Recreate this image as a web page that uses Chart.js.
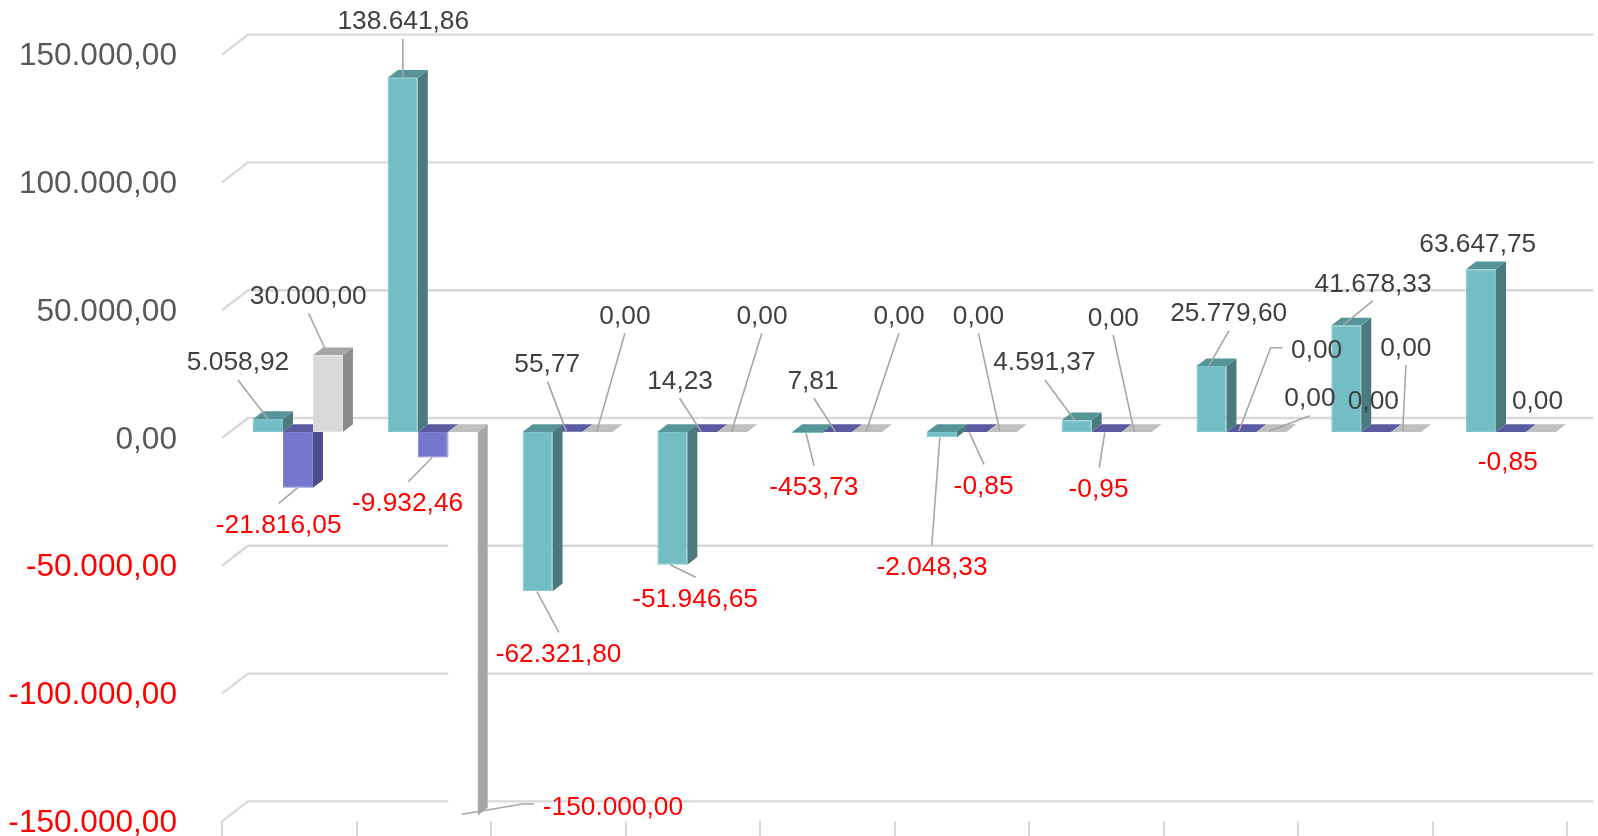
<!DOCTYPE html>
<html>
<head>
<meta charset="utf-8">
<style>html,body{margin:0;padding:0;background:#fff;overflow:hidden}canvas{display:block}</style>
<script src="https://cdn.jsdelivr.net/npm/chart.js@4"></script>
</head>
<body>
<canvas id="c" width="1598" height="836"></canvas>
<script>
const categories = ['1','2','3','4','5','6','7','8','9','10'];
const seriesTeal = [5058.92,138641.86,-62321.80,-51946.65,-453.73,-2048.33,4591.37,25779.60,41678.33,63647.75];
const seriesBlue = [-21816.05,-9932.46,55.77,14.23,7.81,-0.85,-0.95,0,0,-0.85];
const seriesGray = [30000,-150000,0,0,0,0,0,0,0,0];

/* label layout, relative to each bar's value end: [labelDx,labelDy,[leader points...]] */
const tealLayout = [
 [-30,-58,[[-30,-39],[0,0]]],[0.5,-57.6,[[0,-39],[0,0]]],[21,61.7,[[-0.6,0.4],[21.2,41]]],
 [22.7,33.7,[[-1.8,0.2],[23.4,12.5]]],[6.7,52.8,[[-1.1,0.1],[6.9,32.5]]],[-9.9,128.5,[[-2.1,0.1],[-10.1,107.8]]],
 [-32.3,-59.3,[[-31.7,-40.3],[-2.2,-0.3]]],[17.2,-54.4,[[17.5,-35.4],[-2.5,-0.4]]],[26.8,-42.2,[[26.5,-24.5],[-2.9,-0.5]]],
 [-3.3,-26,[]]];
const blueLayout = [
 [-19.3,36.2,[[-0.3,-0.1],[-19.3,15.5]]],[-25.2,44.2,[[-0.5,-0.1],[-24.5,24.3]]],[-20.3,-69.2,[[-20,-50.2],[-1.1,-0.2]]],
 [-22.3,-52,[[-22.6,-33.7],[-1.1,-0.3]]],[-24.1,-52,[[-23.1,-33.7],[-1.7,-0.3]]],[11.7,53,[[-2.6,0.3],[12.1,32.3]]],
 [-8.1,56.3,[[-1.9,0.3],[-7.4,35.7]]],[75.2,-82.7,[[41.2,-84.3],[29.2,-84.3],[-2.5,-1]]],[-2.9,-32,[]],[-3.2,28.7,[]]];
const grayLayout = [
 [-19.7,-60.3,[[-19.3,-42],[-3,-7]]],[150.2,-9.4,[[71.2,-11.4],[59.7,-11.4],[-0.8,-1.1]]],[27.4,-117,[[27.4,-98.7],[-0.8,-0.3]]],
 [29.7,-117,[[29.5,-98.7],[-0.8,-0.3]]],[31.9,-117,[[31.9,-98.7],[-1.1,-0.3]]],[-23.4,-117,[[-23.4,-98.7],[-1.9,-0.3]]],
 [-23.3,-115.3,[[-23.5,-97],[-2.4,-0.3]]],[38.5,-34.7,[[38.5,-16.3],[-2.2,-1]]],[-0.4,-85.3,[[-0.2,-67],[-3.5,-1]]],[-3.5,-32,[]]];

const FONT = '"Liberation Sans", Arial, sans-serif';
const fmt = v => v.toLocaleString('de-DE',{minimumFractionDigits:2,maximumFractionDigits:2});
const BAR_SHIFT = {x:8.6,y:-6};
const BAR_DEPTH = {x:10,y:-7.7};
const WALL = {x:26,y:-20};
const GRID = '#d9d9d9';
const TICK_TEXT_SHIFT = 1.8;

const faces = [
 {ds:1, top:'#5a5aa0', side:'#4d4d8a', flatTop:'#5a5aa0', negSide:'#4d4d8a'},
 {ds:2, top:'#a6a6a6', side:'#8c8c8c', flatTop:'#bfbfbf', negSide:'#a6a6a6'},
 {ds:0, top:'#559599', side:'#4b7a7e', flatTop:'#559599', negSide:'#4b7a7e'}
];
const layouts = [tealLayout, blueLayout, grayLayout];

function poly(ctx, pts, fill){
  ctx.beginPath();
  pts.forEach((p,i)=> i?ctx.lineTo(p[0],p[1]):ctx.moveTo(p[0],p[1]));
  ctx.closePath();
  ctx.fillStyle = fill;
  ctx.fill();
}

const bar3d = {
  id:'bar3d',
  afterLayout(chart){
    /* the tick axis runs slightly narrower than the bar axis */
    const s = chart.scales.xTicks;
    s.right -= 2.5; s.width -= 2.5; s.configure();
    /* value-axis labels sit a little under their tick position */
    const y = chart.scales.y;
    if(!y.__shifted){
      const drawLabels = y.drawLabels;
      y.drawLabels = function(area){
        this.ctx.save();
        this.ctx.translate(0,TICK_TEXT_SHIFT);
        drawLabels.call(this,area);
        this.ctx.restore();
      };
      y.__shifted = true;
    }
  },
  beforeDatasetsDraw(chart){
    const {ctx, chartArea:a, scales:{y,xTicks}} = chart;
    ctx.save();
    ctx.strokeStyle = GRID;
    ctx.lineWidth = 2.4;
    ctx.lineJoin = 'miter';
    y.ticks.forEach(t=>{
      const py = y.getPixelForValue(t.value);
      ctx.beginPath();
      ctx.moveTo(a.left,py);
      ctx.lineTo(a.left+WALL.x,py+WALL.y);
      ctx.lineTo(xTicks.right+WALL.x,py+WALL.y);
      ctx.stroke();
    });
    ctx.restore();
    ctx.save();
    ctx.translate(BAR_SHIFT.x,BAR_SHIFT.y);
    faces.forEach(f=>{
      chart.getDatasetMeta(f.ds).data.forEach((el,i)=>{
        const v = chart.data.datasets[f.ds].data[i];
        const L = el.x-el.width/2, R = el.x+el.width/2;
        const T = Math.min(el.y,el.base), B = Math.max(el.y,el.base);
        const dx = BAR_DEPTH.x, dy = BAR_DEPTH.y;
        if(B-T>0.5) poly(ctx,[[R,T],[R+dx,T+dy],[R+dx,B+dy],[R,B]], v<0?f.negSide:f.side);
        poly(ctx,[[L,T],[R,T],[R+dx,T+dy],[L+dx,T+dy]], v>0?f.top:f.flatTop);
      });
    });
  },
  afterDatasetsDraw(chart){
    const ctx = chart.ctx;
    ctx.restore();
    ctx.save();
    ctx.strokeStyle = '#a6a6a6';
    ctx.lineWidth = 1.6;
    layouts.forEach((lay,ds)=>{
      chart.getDatasetMeta(ds).data.forEach((el,i)=>{
        const ax = el.x+BAR_SHIFT.x, ay = el.y+BAR_SHIFT.y;
        const pts = lay[i][2];
        if(pts.length){
          ctx.beginPath();
          pts.forEach((p,j)=> j?ctx.lineTo(ax+p[0],ay+p[1]):ctx.moveTo(ax+p[0],ay+p[1]));
          ctx.stroke();
        }
      });
    });
    ctx.font = '26.3px '+FONT;
    ctx.textAlign = 'center';
    ctx.textBaseline = 'alphabetic';
    layouts.forEach((lay,ds)=>{
      chart.getDatasetMeta(ds).data.forEach((el,i)=>{
        const v = chart.data.datasets[ds].data[i];
        ctx.fillStyle = v<0 ? '#ff0000' : '#404040';
        ctx.fillText(fmt(v), el.x+BAR_SHIFT.x+lay[i][0], el.y+BAR_SHIFT.y+lay[i][1]+9);
      });
    });
    ctx.restore();
  }
};

const common = {categoryPercentage:0.667, barPercentage:1, borderWidth:1, borderSkipped:false, clip:false, xAxisID:'x'};
new Chart(document.getElementById('c'),{
  type:'bar',
  data:{labels:categories,datasets:[
    {label:'A',data:seriesTeal,backgroundColor:'#72bec4',borderColor:'#7cc4c9',...common},
    {label:'B',data:seriesBlue,backgroundColor:'#7676cc',borderColor:'#8181d2',...common},
    {label:'C',data:seriesGray,
     backgroundColor:seriesGray.map(v=>v<0?'#ffffff':'#d9d9d9'),
     borderColor:seriesGray.map(v=>v<0?'#ffffff':'#e0e0e0'),...common}
  ]},
  plugins:[bar3d],
  options:{
    responsive:false,animation:false,
    layout:{padding:{left:0,top:54.6,right:28.2,bottom:0}},
    plugins:{legend:{display:false},tooltip:{enabled:false},title:{display:false}},
    scales:{
      x:{display:false},
      xTicks:{
        type:'category',position:'bottom',
        grid:{drawOnChartArea:false,drawTicks:true,tickLength:15,color:GRID,lineWidth:2,offset:true},
        border:{display:false},
        ticks:{display:false},
        afterFit(s){s.height=14.6;}
      },
      y:{
        min:-150000,max:150000,
        grid:{display:false,drawTicks:false},
        border:{display:false},
        ticks:{stepSize:50000,autoSkip:false,padding:45,
          font:{family:FONT,size:31.6},
          color:c=>c.tick.value<0?'#ff0000':'#595959',
          callback:v=>fmt(v)},
        afterFit(s){s.width=222;s.paddingTop=0;s.paddingBottom=0;}
      }
    }
  }
});
</script>
</body>
</html>
